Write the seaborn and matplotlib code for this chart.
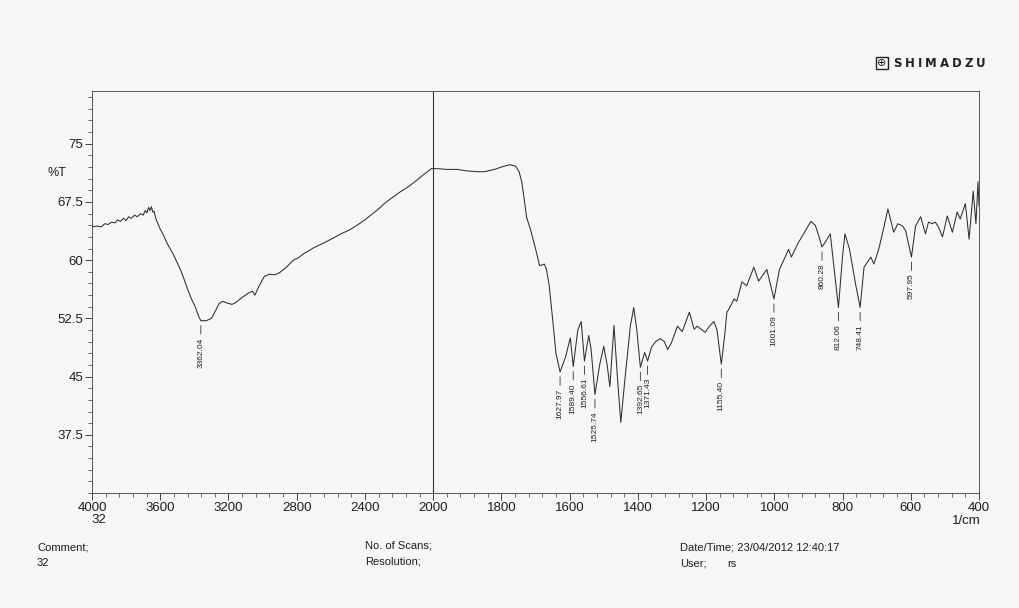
import numpy as np
import pandas as pd
import matplotlib
matplotlib.use("Agg")
import matplotlib.pyplot as plt
import seaborn as sns

# FTIR spectrum, wavenumber (1/cm) vs. transmittance (%T)
wavenumber = [
    4000, 3970, 3945, 3925, 3905, 3885, 3865, 3850, 3835, 3815, 3800, 3785,
    3770, 3750, 3735, 3715, 3700, 3688, 3678, 3668, 3660, 3652, 3644, 3636,
    3625, 3610, 3600, 3585, 3560, 3520, 3476, 3440, 3417, 3395, 3375, 3362.04,
    3330, 3300, 3280, 3255, 3235, 3210, 3180, 3160, 3120, 3080, 3060, 3045,
    3020, 2990, 2960, 2930, 2900, 2860, 2820, 2790, 2762, 2700, 2643, 2590,
    2540, 2490, 2446, 2400, 2360, 2320, 2286, 2250, 2200, 2150, 2107, 2075,
    2040, 2010, 1990, 1960, 1930, 1900, 1870, 1850, 1820, 1793, 1774, 1758,
    1748, 1740, 1732, 1726, 1715, 1700, 1688, 1680, 1674, 1668, 1660, 1650,
    1640, 1627.97, 1612, 1598, 1589.40, 1576, 1566, 1556.61, 1544, 1537,
    1525.74, 1512, 1500, 1490, 1482, 1470, 1460, 1450, 1436, 1422, 1412, 1403,
    1392.65, 1380, 1371.43, 1360, 1348, 1334, 1322, 1313, 1302, 1284, 1270,
    1249, 1235, 1226, 1203, 1190, 1177, 1168, 1155.40, 1145, 1139, 1133, 1118,
    1110, 1095, 1081, 1060, 1046, 1022, 1001.09, 985, 958, 950, 929, 906, 893,
    880, 870, 860.28, 848, 836, 825, 812.06, 800, 793, 780, 760, 748.41, 737,
    717, 708, 694, 680, 667, 658, 650, 638, 624, 615, 597.95, 586, 571, 557,
    548, 537, 528, 519, 507, 493, 478, 464, 455, 440, 429, 417, 409, 403, 400,
]
transmittance = [
    64.3, 64.4, 64.3, 64.7, 64.6, 64.9, 64.8, 65.2, 65.0, 65.4, 65.1, 65.6,
    65.4, 65.8, 65.6, 66.0, 65.8, 66.4, 66.1, 66.8, 66.4, 66.9, 66.2, 66.3,
    65.3, 64.5, 64.0, 63.4, 62.2, 60.6, 58.5, 56.3, 55.0, 54.0, 52.8, 52.2,
    52.2, 52.5, 53.3, 54.4, 54.7, 54.5, 54.3, 54.5, 55.2, 55.8, 56.0, 55.5,
    56.7, 57.9, 58.2, 58.1, 58.4, 59.1, 60.0, 60.3, 60.8, 61.6, 62.2, 62.8,
    63.4, 63.9, 64.5, 65.2, 65.9, 66.6, 67.3, 67.9, 68.7, 69.4, 70.1, 70.7,
    71.3, 71.8, 71.8, 71.7, 71.7, 71.5, 71.4, 71.4, 71.7, 72.1, 72.3, 72.1,
    71.4, 70.0, 67.5, 65.5, 64.0, 61.5, 59.3, 59.4, 59.5, 58.8, 56.8, 52.5,
    48.0, 45.6, 47.5, 50.0, 46.3, 51.0, 52.1, 47.0, 50.3, 48.5,
    42.7, 46.5, 48.9, 46.5, 43.7, 51.6, 45.0, 39.1, 45.5, 51.5, 53.9, 51.0,
    46.2, 48.1, 47.0, 48.8, 49.5, 49.9, 49.5, 48.5, 49.3, 51.5, 50.8,
    53.3, 51.1, 51.5, 50.7, 51.5, 52.1, 51.0, 46.6, 50.5, 53.3, 53.7, 55.0,
    54.7, 57.2, 56.7, 59.1, 57.3, 58.8, 55.0, 58.8, 61.4, 60.4, 62.3, 64.0, 65.0,
    64.5, 63.2, 61.7, 62.5, 63.4, 59.0, 53.9, 60.5, 63.4, 61.5, 56.5, 53.9, 59.1,
    60.4, 59.5, 61.4, 64.0, 66.6, 65.0, 63.6, 64.7, 64.4, 63.8, 60.4, 64.4, 65.6, 63.4,
    64.9, 64.7, 64.9, 64.3, 63.0, 65.7, 63.6, 66.2, 65.3, 67.3, 62.7, 68.9, 64.7, 70.1, 67.0,
]
peak_labels = ["3362.04", "1627.97", "1589.40", "1556.61", "1525.74", "1392.65",
               "1371.43", "1155.40", "1001.09", "860.28", "812.06", "748.41", "597.95"]
x_major = [4000, 3600, 3200, 2800, 2400, 2000, 1800, 1600, 1400, 1200, 1000, 800, 600, 400]
y_major = [37.5, 45, 52.5, 60, 67.5, 75]
y_major_labels = ["37.5", "45", "52.5", "60", "67.5", "75"]

W, H = 1019, 608
paper = "#f6f6f4"
ink = "#2e2e2e"

sns.set_style("ticks")
plt.rcParams["font.family"] = ["Liberation Sans", "DejaVu Sans"]


def fpos(x, y):
    return x / W, 1 - y / H


fig = plt.figure(figsize=(W / 100, H / 100), dpi=100, facecolor=paper)
ax = fig.add_axes([92 / W, 1 - 493 / H, (979 - 92) / W, (493 - 91) / H])
ax.set_facecolor(paper)


# region below 2000 1/cm is drawn at twice the scale of the region above
def fwd(x):
    x = np.asarray(x, dtype=float)
    return np.where(x >= 2000, x, 2 * x - 2000)


def inv(u):
    u = np.asarray(u, dtype=float)
    return np.where(u >= 2000, u, (u + 2000) / 2)


df = pd.DataFrame({"wn": wavenumber, "T": transmittance})
sns.lineplot(data=df, x="wn", y="T", ax=ax, color=ink, linewidth=0.75,
             sort=False, estimator=None)
ax.set_xscale("function", functions=(fwd, inv))
ax.set_xlim(4000, 400)
ax.set_ylim(30, 81.8)
ax.set_xlabel("")
ax.set_ylabel("")

ax.set_xticks(x_major)
ax.set_xticklabels([str(v) for v in x_major])
minor_x = list(np.arange(4000, 2000, -80)) + list(np.arange(2000, 399, -40))
ax.set_xticks(minor_x, minor=True)
ax.set_yticks(y_major)
ax.set_yticklabels(y_major_labels)
ax.set_yticks(np.arange(30, 81.1, 1.5), minor=True)
ax.tick_params(which="major", direction="out", length=5, width=0.7,
               color="#444444", labelsize=9.5, labelcolor="#1e1e1e", pad=1.5)
ax.tick_params(which="minor", direction="out", length=3, width=0.6, color="#555555")
for s in ax.spines.values():
    s.set_visible(True)
    s.set_linewidth(0.7)
    s.set_color("#555555")

ax.axvline(2000, color="#333333", lw=0.8)

# peak annotations
wn_arr = np.array(wavenumber)[::-1]
t_arr = np.array(transmittance)[::-1]
for lab in peak_labels:
    w = float(lab)
    t = float(np.interp(w, wn_arr, t_arr))
    ax.annotate(lab, xy=(w, t), xytext=(0, -12), textcoords="offset points",
                rotation=90, ha="center", va="top", fontsize=6, color="#222222",
                arrowprops=dict(arrowstyle="-", lw=0.6, color="#333333",
                                shrinkA=0, shrinkB=3.5))

# axis annotations
fig.text(*fpos(57, 173), "%T", fontsize=9, ha="center", va="center", color="#1e1e1e")
fig.text(*fpos(99, 520), "32", fontsize=9.5, ha="center", va="center", color="#1e1e1e")
fig.text(*fpos(966, 521), "1/cm", fontsize=9.5, ha="center", va="center", color="#1e1e1e")

# footer
foot = dict(fontsize=8, ha="left", va="center", color="#1e1e1e")
fig.text(*fpos(37, 547), "Comment;", **foot)
fig.text(*fpos(37, 563), "32", **foot)
fig.text(*fpos(365, 546), "No. of Scans;", **foot)
fig.text(*fpos(365, 562), "Resolution;", **foot)
fig.text(*fpos(680, 547), "Date/Time; 23/04/2012 12:40:17", **foot)
fig.text(*fpos(680, 564), "User;", **foot)
fig.text(*fpos(727, 564), "rs", **foot)

# manufacturer mark
fig.text(*fpos(882, 63), "\u2295", fontsize=8, ha="center", va="center",
         family="DejaVu Sans", color="#222222",
         bbox=dict(boxstyle="square,pad=0.12", fc="none", ec="#222222", lw=1.0))
brand = "SHIMADZU"
adv = {"S": 0.72, "H": 0.84, "I": 0.37, "M": 0.99, "A": 0.77, "D": 0.83, "Z": 0.73, "U": 0.81}
em_px = 8.5 * 100 / 72
track = 3.0
xcur = 893.0
for ch in brand:
    wpx = adv[ch] * em_px
    fig.text(*fpos(xcur + wpx / 2, 63.5), ch, fontsize=8.5, fontweight="bold",
             ha="center", va="center", family="DejaVu Sans", color="#222222")
    xcur += wpx + track

fig.savefig("out.png", dpi=100, facecolor=paper)
